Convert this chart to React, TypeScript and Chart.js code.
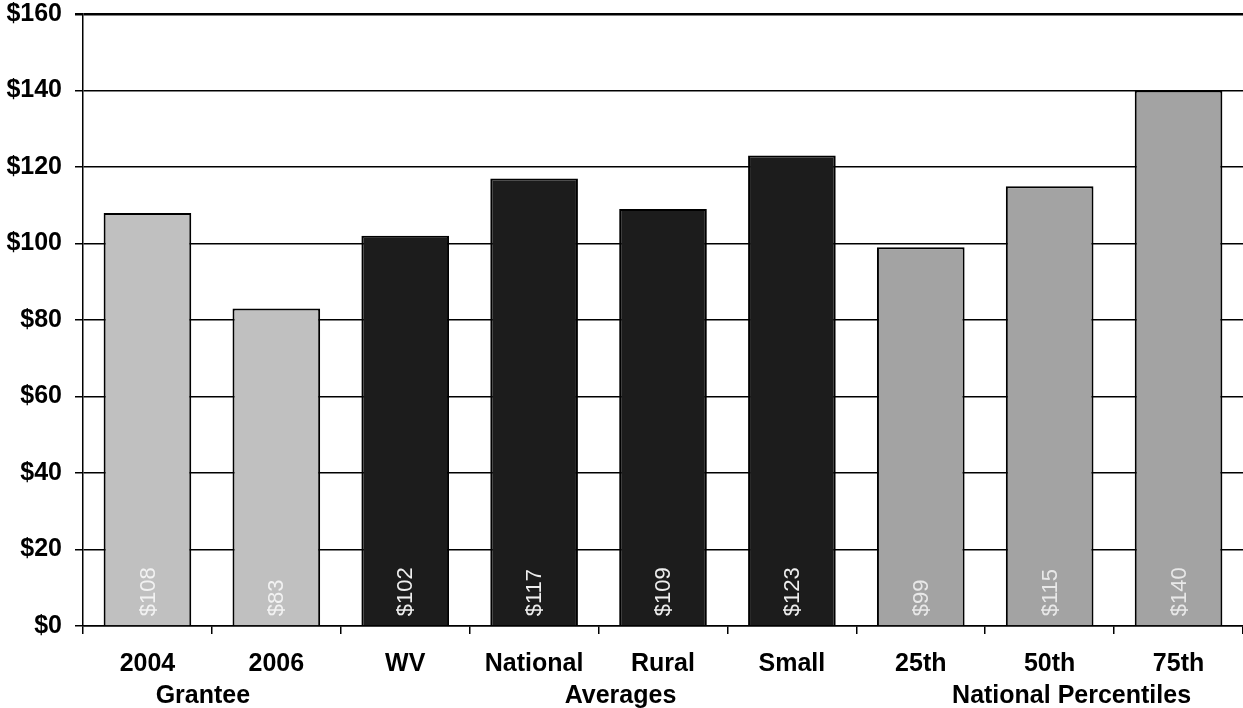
import React, { useEffect, useRef } from "react";
import { Chart, registerables } from "chart.js";

Chart.register(...registerables);

const categories = ["2004", "2006", "WV", "National", "Rural", "Small", "25th", "50th", "75th"];
const values = [108, 83, 102, 117, 109, 123, 99, 115, 140];
const barColors = ["#C0C0C0", "#C0C0C0", "#1C1C1C", "#1C1C1C", "#1C1C1C", "#1C1C1C", "#A3A3A3", "#A3A3A3", "#A3A3A3"];
const labelColors = ["#F2F2F2", "#F2F2F2", "#EEEEEE", "#EEEEEE", "#EEEEEE", "#EEEEEE", "#E8E8E8", "#E8E8E8", "#E8E8E8"];
const groupLabels = ["Grantee", "Averages", "National Percentiles"];
const groupCenters = [0.43, 3.67, 7.17]; // position in category-index units
const yTicks = [0, 20, 40, 60, 80, 100, 120, 140, 160];

const FONT = "'Liberation Sans', Arial, sans-serif";

const valueLabelPlugin = {
  id: "valueLabels",
  afterDatasetsDraw(chart: any) {
    const ctx = chart.ctx;
    const meta = chart.getDatasetMeta(0);
    ctx.save();
    ctx.font = `22px ${FONT}`;
    ctx.textAlign = "left";
    ctx.textBaseline = "middle";
    meta.data.forEach((bar: any, i: number) => {
      ctx.save();
      ctx.translate(bar.x, bar.base - 9);
      ctx.rotate(-Math.PI / 2);
      ctx.fillStyle = labelColors[i];
      ctx.fillText("$" + values[i], 0, 1);
      ctx.restore();
    });
    ctx.restore();
  },
};

const groupLabelPlugin = {
  id: "groupLabels",
  afterDraw(chart: any) {
    const ctx = chart.ctx;
    const x = chart.scales.x;
    const p0 = x.getPixelForValue(0);
    const p1 = x.getPixelForValue(1);
    const step = p1 - p0;
    ctx.save();
    ctx.font = `bold 25px ${FONT}`;
    ctx.fillStyle = "#000000";
    ctx.textAlign = "center";
    ctx.textBaseline = "middle";
    groupLabels.forEach((label, i) => {
      ctx.fillText(label, p0 + groupCenters[i] * step, chart.chartArea.bottom + 70);
    });
    ctx.restore();
  },
};

export default function App() {
  const canvasRef = useRef<HTMLCanvasElement | null>(null);

  useEffect(() => {
    if (!canvasRef.current) return;
    const chart = new Chart(canvasRef.current, {
      type: "bar",
      data: {
        labels: categories,
        datasets: [
          {
            data: values,
            backgroundColor: barColors,
            borderColor: "#000000",
            borderWidth: 2,
            barPercentage: 0.68,
            categoryPercentage: 1,
          },
        ],
      },
      options: {
        animation: false,
        responsive: false,
        maintainAspectRatio: false,
        layout: { padding: { top: 14, right: 0, left: 0, bottom: 0 } },
        plugins: {
          legend: { display: false },
          tooltip: { enabled: false },
        },
        scales: {
          x: {
            grid: {
              display: true,
              drawOnChartArea: false,
              drawTicks: true,
              tickLength: 8,
              offset: true,
              color: "#000000",
              lineWidth: 1.5,
            },
            border: { display: true, color: "#000000", width: 1.5 },
            ticks: {
              color: "#000000",
              font: { family: FONT, size: 25, weight: "bold", lineHeight: 1 },
              padding: 18,
              maxRotation: 0,
              autoSkip: false,
            },
            afterFit(scale: any) {
              scale.height = 82;
              scale.paddingLeft = 0;
              scale.paddingRight = 0;
            },
          },
          y: {
            min: 0,
            max: 160,
            afterBuildTicks(scale: any) {
              scale.ticks = yTicks.map((v) => ({ value: v }));
            },
            grid: {
              color: "#000000",
              lineWidth: (c: any) => (c.tick && c.tick.value === 160 ? 2.5 : 1.5),
              tickLength: 8,
            },
            border: { display: true, color: "#000000", width: 1.5 },
            ticks: {
              color: "#000000",
              font: { family: FONT, size: 25, weight: "bold", lineHeight: 1 },
              padding: 13,
              callback: (v: any) => "$" + v,
            },
            afterFit(scale: any) {
              scale.width = 83;
              scale.paddingTop = 0;
              scale.paddingBottom = 0;
            },
          },
        },
      },
      plugins: [valueLabelPlugin, groupLabelPlugin],
    });
    return () => chart.destroy();
  }, []);

  return (
    <div style={{ position: "fixed", left: 0, top: 0, width: 1243, height: 708, background: "#ffffff" }}>
      <canvas ref={canvasRef} width={1243} height={708} style={{ width: 1243, height: 708 }} />
    </div>
  );
}
